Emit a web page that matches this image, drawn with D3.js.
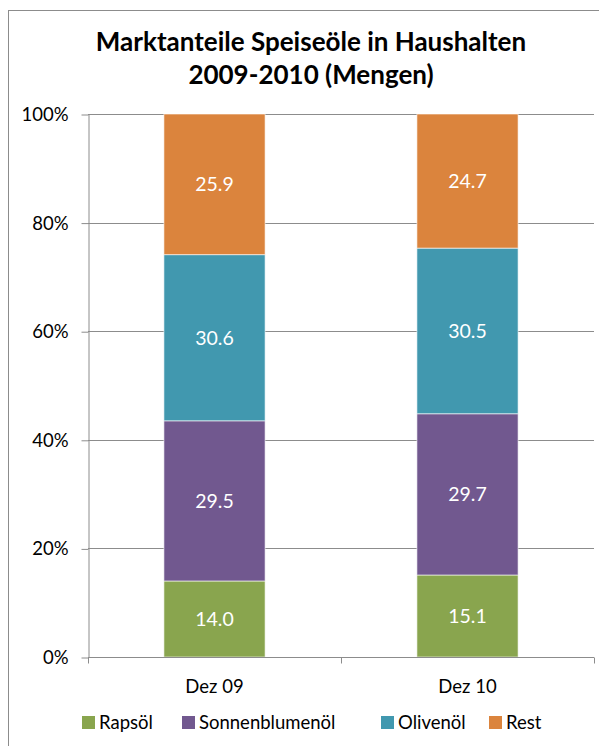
<!DOCTYPE html>
<html>
<head>
<meta charset="utf-8">
<script src="https://cdn.jsdelivr.net/npm/d3@7"></script>
<style>
  body { margin: 0; background: #fff; }
  text { font-family: Lato, "Open Sans", sans-serif; }
</style>
</head>
<body>
<div id="chart"></div>
<script>
const categories = ["Dez 09", "Dez 10"]
const seriesNames = ["Rapsöl", "Sonnenblumenöl", "Olivenöl", "Rest"]
const rapsoel = [14.0, 15.1]
const sonnenblumenoel = [29.5, 29.7]
const olivenoel = [30.6, 30.5]
const rest = [25.9, 24.7]
const yTicks = [0, 20, 40, 60, 80, 100]

const colors = ["#89a54e", "#71588f", "#4198af", "#db843d"]

const width = 599
const height = 746
const margin = {top: 114, right: 5, bottom: 89, left: 88}

const svg = d3.select("#chart")
  .append("svg")
    .attr("width", width)
    .attr("height", height)

// outer frame
svg.append("rect")
  .attr("x", 8.5).attr("y", 10.5)
  .attr("width", 620).attr("height", 760)
  .attr("fill", "none")
  .attr("stroke", "#8c8c8c")

svg.append("text")
  .attr("x", 311).attr("y", 51)
  .attr("text-anchor", "middle")
  .attr("font-size", "26px")
  .attr("font-weight", "bold")
  .text("Marktanteile Speiseöle in Haushalten")
svg.append("text")
  .attr("x", 311).attr("y", 84)
  .attr("text-anchor", "middle")
  .attr("font-size", "26px")
  .attr("font-weight", "bold")
  .text("2009-2010 (Mengen)")

const plotW = 594 - margin.left
const plotH = 657 - margin.top

const g = svg.append("g")
  .attr("transform", "translate(" + margin.left + "," + margin.top + ")")

let x = d3.scaleBand()
  .domain(categories)
  .range([0, plotW])

let y = d3.scaleLinear()
  .domain([0, 100])
  .range([plotH, 0])

// gridlines
g.selectAll(".grid")
  .data(yTicks.filter(d => d > 0))
  .enter()
  .append("line")
    .attr("x1", 0).attr("x2", plotW)
    .attr("y1", d => Math.round(y(d)) + 0.5)
    .attr("y2", d => Math.round(y(d)) + 0.5)
    .attr("stroke", "#8c8c8c")

// y axis
let yAxis = g.append("g")
  .attr("transform", "translate(0.5,0)")
  .call(d3.axisLeft(y).tickValues(yTicks).tickFormat(d => d + "%").tickSize(7).tickSizeOuter(0))
yAxis.selectAll("line").attr("stroke", "#8c8c8c")
  .attr("transform", "translate(0,0.5)")
yAxis.select(".domain").attr("stroke", "#8c8c8c")
yAxis.selectAll("text")
  .attr("font-size", "18.5px")
  .attr("fill", "#000")
  .attr("x", -20)
  .attr("dy", "0.35em")
  .style("font-family", "Lato, sans-serif")

// stacked data
const table = categories.map((c, i) => ({
  cat: c,
  "Rapsöl": rapsoel[i],
  "Sonnenblumenöl": sonnenblumenoel[i],
  "Olivenöl": olivenoel[i],
  "Rest": rest[i]
}))
const stacked = d3.stack().keys(seriesNames)(table)

const barW = x.bandwidth() * 0.4

let layers = g.selectAll(".layer")
  .data(stacked)
  .enter()
  .append("g")
    .attr("fill", (d, i) => colors[i])

layers.selectAll("rect")
  .data(d => d)
  .enter()
  .append("rect")
    .attr("x", d => x(d.data.cat) + (x.bandwidth() - barW) / 2)
    .attr("width", barW)
    .attr("y", d => y(d[1]))
    .attr("height", d => y(d[0]) - y(d[1]))
    .attr("stroke", "#ffffff")
    .attr("stroke-opacity", 0.6)
    .attr("stroke-width", 1)

layers.selectAll("text")
  .data(d => d)
  .enter()
  .append("text")
    .attr("x", d => x(d.data.cat) + x.bandwidth() / 2)
    .attr("y", d => (y(d[0]) + y(d[1])) / 2)
    .attr("dy", "0.35em")
    .attr("text-anchor", "middle")
    .attr("font-size", "19.5px")
    .attr("fill", "#fff")
    .text(d => (d[1] - d[0]).toFixed(1))

// x axis
let xAxis = g.append("g")
  .attr("transform", "translate(0," + (plotH + 0.5) + ")")
xAxis.append("line")
  .attr("x1", 0).attr("x2", plotW)
  .attr("stroke", "#8c8c8c")
xAxis.selectAll(".xt")
  .data([0, plotW / 2, plotW])
  .enter()
  .append("line")
    .attr("x1", d => Math.round(d) + 0.5).attr("x2", d => Math.round(d) + 0.5)
    .attr("y1", 0).attr("y2", 6)
    .attr("stroke", "#8c8c8c")
xAxis.selectAll(".xl")
  .data(categories)
  .enter()
  .append("text")
    .attr("x", d => x(d) + x.bandwidth() / 2)
    .attr("y", 35)
    .attr("text-anchor", "middle")
    .attr("font-size", "18.5px")
    .text(d => d)

// legend
const legendX = [82, 182, 381, 489]
let legend = svg.selectAll(".legend")
  .data(seriesNames)
  .enter()
  .append("g")
    .attr("transform", (d, i) => "translate(" + legendX[i] + ",716)")
legend.append("rect")
  .attr("width", 13).attr("height", 13)
  .attr("fill", (d, i) => colors[i])
legend.append("text")
  .attr("x", 17).attr("y", 7)
  .attr("dy", "0.35em")
  .attr("font-size", "18.5px")
  .text(d => d)
</script>
</body>
</html>
